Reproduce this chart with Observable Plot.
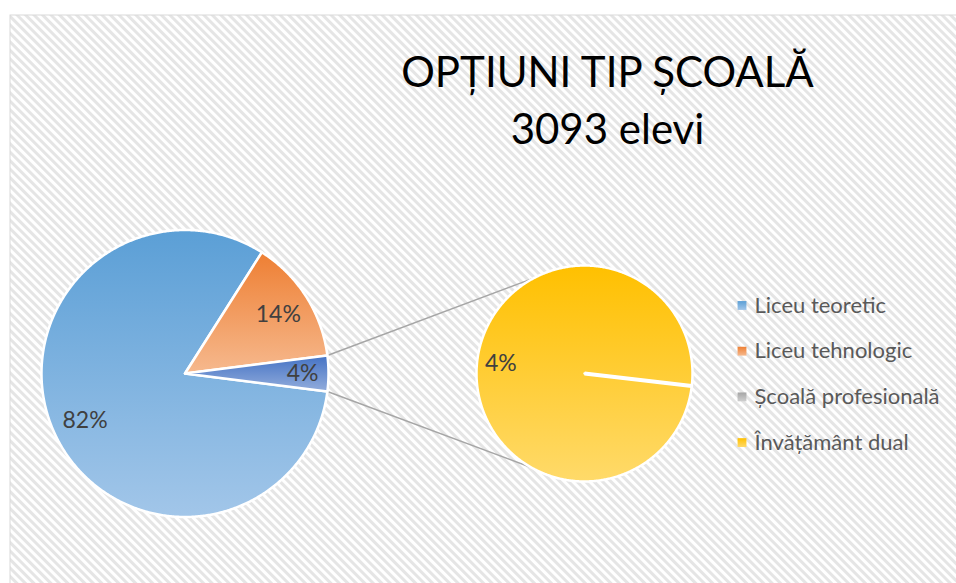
<!DOCTYPE html>
<html><head><meta charset="utf-8">
<script src="https://cdn.jsdelivr.net/npm/d3@7"></script>
<script src="https://cdn.jsdelivr.net/npm/@observablehq/plot@0.6"></script>
<style>html,body{margin:0;padding:0;background:#fff;overflow:hidden}</style>
</head><body><div id="chart"></div>
<script>
// ---- data ----
const categories = ["Liceu teoretic", "Liceu tehnologic", "Școală profesională", "Învățământ dual"];
const shares = [82, 14, 0, 4];          // percent of 3093 pupils
const inMainPie = [true, true, false, false];
const titleLines = ["OPȚIUNI TIP ȘCOALĂ", "3093 elevi"];

// ---- style / layout constants ----
const W = 956, H = 583;
const gradients = {
  "Liceu teoretic": ["#5B9FD6", "#A2C6E9"],
  "Liceu tehnologic": ["#EE7F33", "#F6B98E"],
  "Școală profesională": ["#A5A5A5", "#CFCFCF"],
  "Învățământ dual": ["#FFC000", "#FFDA6A"],
  "other": ["#4472C4", "#93ADDC"]
};
const gid = name => "g" + ["Liceu teoretic","Liceu tehnologic","Școală profesională","Învățământ dual","other"].indexOf(name);
const main = {cx: 184.5, cy: 373, r: 143.5};
const sec = {cx: 584, cy: 373, r: 108, start: 96.7 * Math.PI / 180};
const labelFrac = 0.77;
const deg = Math.PI / 180;

// main pie values: categories in main pie + aggregated "other"
const mainItems = categories.map((c, i) => ({name: c, value: shares[i]})).filter((d, i) => inMainPie[i]);
const otherValue = d3.sum(shares.filter((v, i) => !inMainPie[i]));
mainItems.push({name: "other", value: otherValue});
const total = d3.sum(mainItems, d => d.value);
const mainStart = Math.PI / 2 + (otherValue / total) * Math.PI; // center "other" slice at 3 o'clock
const mainArcs = d3.pie().sort(null).value(d => d.value).startAngle(mainStart).endAngle(mainStart + 2 * Math.PI)(mainItems);

const secItems = categories.map((c, i) => ({name: c, value: shares[i]})).filter((d, i) => !inMainPie[i]);
const secArcs = d3.pie().sort(null).value(d => d.value).startAngle(sec.start).endAngle(sec.start + 2 * Math.PI)(secItems);

function slicePoly(p, a0, a1) {
  const pts = [[p.cx, p.cy]];
  const n = Math.max(2, Math.ceil((a1 - a0) / (0.5 * deg)));
  for (let i = 0; i <= n; i++) {
    const a = a0 + (a1 - a0) * i / n;
    pts.push([p.cx + p.r * Math.sin(a), p.cy - p.r * Math.cos(a)]);
  }
  return pts;
}
const pt = (p, a, f = 1) => [p.cx + f * p.r * Math.sin(a), p.cy - f * p.r * Math.cos(a)];

const sliceMarks = [];
for (const a of mainArcs) {
  sliceMarks.push(Plot.line(slicePoly(main, a.startAngle, a.endAngle), {
    x: d => d[0], y: d => d[1], curve: "linear-closed",
    fill: `url(#${gid(a.data.name)})`, stroke: "white", strokeWidth: 2.5, strokeLinejoin: "round"
  }));
}
for (const a of secArcs) {
  if (a.endAngle - a.startAngle <= 0) continue;
  sliceMarks.push(Plot.line(slicePoly(sec, a.startAngle, a.endAngle), {
    x: d => d[0], y: d => d[1], curve: "linear-closed",
    fill: `url(#${gid(a.data.name)})`, stroke: "white", strokeWidth: 2.5, strokeLinejoin: "round"
  }));
}
// zero slices in secondary pie: boundary line
const zeroLines = secArcs.filter(a => a.endAngle - a.startAngle <= 0).map(a => {
  const [x2, y2] = pt(sec, a.startAngle);
  return {x1: sec.cx, y1: sec.cy, x2, y2};
});

// labels
const fmt = v => Math.round(v) + "%";
const labels = [];
for (const a of mainArcs) {
  if (a.data.value <= 0) continue;
  const [x, y] = pt(main, (a.startAngle + a.endAngle) / 2, a.data.name === "other" ? 0.82 : labelFrac);
  labels.push({x, y, text: fmt(a.data.value / total * 100)});
}
for (const a of secArcs) {
  if (a.data.value <= 0) continue;
  const [x, y] = pt(sec, (a.startAngle + a.endAngle) / 2, 0.78);
  labels.push({x, y, text: fmt(a.data.value / total * 100)});
}

// connectors: edges of "other" slice to secondary pie
const oArc = mainArcs[mainArcs.length - 1];
const [ux1, uy1] = pt(main, oArc.startAngle);
const [lx1, ly1] = pt(main, oArc.endAngle);
const [ux2, uy2] = pt(sec, 332 * deg);
const [lx2, ly2] = pt(sec, 209.5 * deg);
const connectors = [{x1: ux1, y1: uy1, x2: ux2, y2: uy2}, {x1: lx1, y1: ly1, x2: lx2, y2: ly2}];

// legend
const legendRows = categories.map((c, i) => ({name: c, y: 305 + i * 45.7}));

const chart = Plot.plot({
  width: W, height: H,
  margin: 0,
  x: {domain: [0, W], range: [0, W], axis: null},
  y: {domain: [0, H], range: [0, H], axis: null},
  style: {background: "white", fontFamily: "Lato, 'Open Sans', sans-serif"},
  marks: [
    Plot.frame({fill: "url(#hatch)", stroke: "#d9d9d9", strokeWidth: 1, insetLeft: 9.5, insetTop: 14.5, insetRight: -5, insetBottom: -5}),
    Plot.text(titleLines, {x: 607, y: (d, i) => i === 0 ? 73 : 130, text: d => d, fontSize: 42, fill: "#000", textAnchor: "middle"}),
    Plot.link(connectors, {x1: "x1", y1: "y1", x2: "x2", y2: "y2", stroke: "#a6a6a6", strokeWidth: 1.5}),
    ...sliceMarks,
    Plot.link(zeroLines, {x1: "x1", y1: "y1", x2: "x2", y2: "y2", stroke: "white", strokeWidth: 4}),
    Plot.text(labels, {x: "x", y: "y", text: "text", fontSize: 23, fill: "#404040", textAnchor: "middle"}),
    Plot.dot(legendRows, {x: 741.5, y: "y", symbol: "square", r: 5, fill: d => `url(#${gid(d.name)})`, stroke: null}),
    Plot.text(legendRows, {x: 754, y: "y", text: "name", fontSize: 22, fill: "#595959", textAnchor: "start"})
  ]
});

const svg = d3.select(chart);
const defs = svg.insert("defs", ":first-child");
const pat = defs.append("pattern").attr("id", "hatch").attr("patternUnits", "userSpaceOnUse")
  .attr("width", 6).attr("height", 6).attr("patternTransform", "rotate(-45)");
pat.append("rect").attr("width", 6).attr("height", 6).attr("fill", "white");
pat.append("rect").attr("width", 3).attr("height", 6).attr("fill", "#e5e5e5");
for (const [name, [c0, c1]] of Object.entries(gradients)) {
  const g = defs.append("linearGradient").attr("id", gid(name)).attr("x1", 0).attr("y1", 0).attr("x2", 0).attr("y2", 1);
  g.append("stop").attr("offset", "0%").attr("stop-color", c0);
  g.append("stop").attr("offset", "100%").attr("stop-color", c1);
}
document.getElementById("chart").append(chart);
</script>
</body></html>
